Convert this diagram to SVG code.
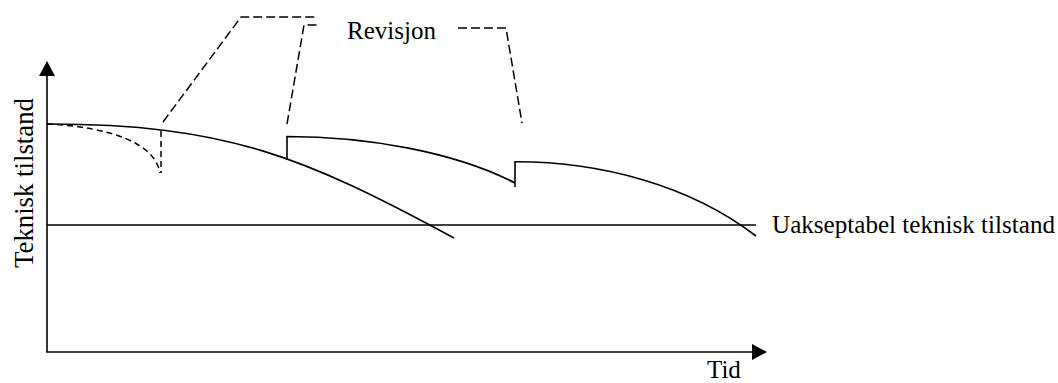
<svg xmlns="http://www.w3.org/2000/svg" width="1058" height="383" viewBox="0 0 1058 383">
<style>
.ln{fill:none;stroke:#000;stroke-width:1.6}
.ds{fill:none;stroke:#000;stroke-width:1.5;stroke-dasharray:9 4}
.ds2{fill:none;stroke:#000;stroke-width:1.5;stroke-dasharray:6 4}
.t{font-family:"Liberation Serif","Times New Roman",serif;font-size:25px;fill:#000}
</style>
<rect width="1058" height="383" fill="#fff"/>
<g id="axes">
<line class="ln" x1="47" y1="74" x2="47" y2="352"/>
<line class="ln" x1="46" y1="352" x2="754" y2="352"/>
<polygon points="47,61 39,76 55,76" fill="#000"/>
<polygon points="767,352 752,344 752,360" fill="#000"/>
</g>
<g id="threshold">
<line class="ln" x1="47" y1="225" x2="756" y2="225"/>
</g>
<g id="curves">
<path class="ln" d="M47,124 C227,124 304,157 454,238"/>
<path class="ln" d="M287,160 L287,136.5 C367,136.5 455,152 515,183"/>
<path class="ln" d="M515,187 L515,161.7 C600,161.5 690,185 756,236"/>
<path class="ds2" d="M47,124 C110,127 155,143 160,173"/>
<line class="ds2" x1="161" y1="131" x2="161" y2="173"/>
</g>
<g id="connectors">
<polyline class="ds" points="163,122 241,17 315,17"/>
<polyline class="ds" points="287,124 304,25 320,25"/>
<polyline class="ds" points="458,28 506,28 522,123"/>
</g>
<g id="labels">
<text class="t" x="347" y="39">Revisjon</text>
<text class="t" x="772" y="233" textLength="283" lengthAdjust="spacingAndGlyphs">Uakseptabel teknisk tilstand</text>
<text class="t" x="707" y="378">Tid</text>
<text class="t" style="font-size:28px" transform="translate(33,268) rotate(-90)" textLength="170" lengthAdjust="spacingAndGlyphs">Teknisk tilstand</text>
</g>
</svg>
